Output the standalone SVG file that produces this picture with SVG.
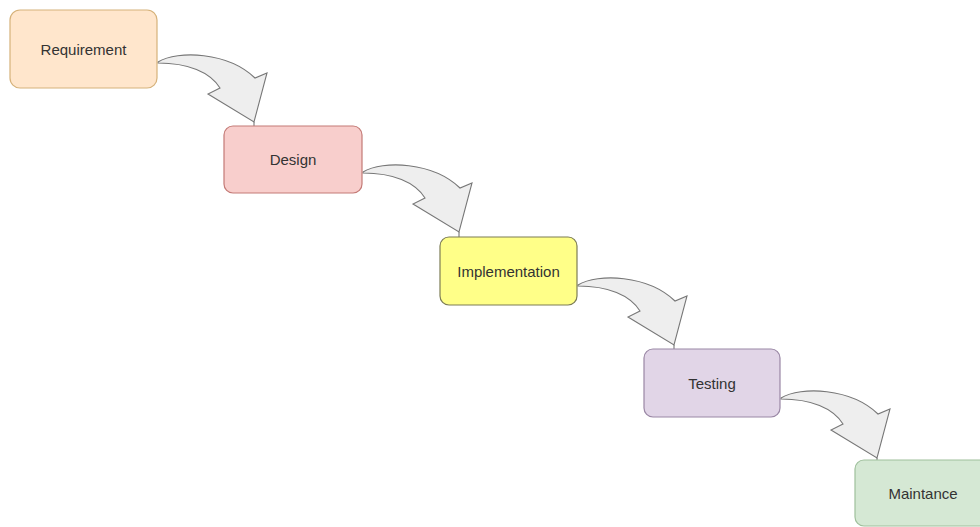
<svg xmlns="http://www.w3.org/2000/svg" xmlns:xlink="http://www.w3.org/1999/xlink" width="980" height="527" viewBox="0 0 980 527">
  <style>
    .node rect { stroke-width: 1.2; }
    .node text { font-family: "Liberation Sans", Arial, sans-serif; font-size: 15px; fill: #333333; text-anchor: middle; dominant-baseline: central; }
    .req rect { fill: #ffe6cc; stroke: #d6b27a; }
    .des rect { fill: #f8cecc; stroke: #c47a76; }
    .imp rect { fill: #ffff88; stroke: #7d7d55; }
    .tst rect { fill: #e1d5e7; stroke: #9a87a5; }
    .mnt rect { fill: #d5e8d4; stroke: #9fc09c; }
    .flow { fill: #eeeeee; stroke: #777777; stroke-width: 1.1; stroke-linejoin: miter; }
  </style>
  <defs>
    <!-- curved block arrow, drawn from its tail point at (0,0) -->
    <path id="curved-arrow" d="M0,0 C20,-12 70,-10 97,16 L109,11 L96,60 L50,32 L62,26 C52,10 30,1 0,1 Z"/>
  </defs>
  <rect width="980" height="527" fill="#ffffff"/>

  <g id="connectors" class="flow">
    <use xlink:href="#curved-arrow" transform="translate(158,62)"/>
    <use xlink:href="#curved-arrow" transform="translate(363,172)"/>
    <use xlink:href="#curved-arrow" transform="translate(578,285)"/>
    <use xlink:href="#curved-arrow" transform="translate(781,398)"/>
    <path d="M254,122 V126 M459,232 V237 M674,345 V349 M877,458 V460" fill="none"/>
  </g>

  <g id="requirement" class="node req">
    <rect x="10" y="10" width="147" height="78" rx="10"/>
    <text x="83.5" y="49">Requirement</text>
  </g>
  <g id="design" class="node des">
    <rect x="224" y="126" width="138" height="67" rx="9"/>
    <text x="293" y="159.5">Design</text>
  </g>
  <g id="implementation" class="node imp">
    <rect x="440" y="237" width="137" height="68" rx="9"/>
    <text x="508.5" y="271">Implementation</text>
  </g>
  <g id="testing" class="node tst">
    <rect x="644" y="349" width="136" height="68" rx="9"/>
    <text x="712" y="383">Testing</text>
  </g>
  <g id="maintance" class="node mnt">
    <rect x="855" y="460" width="136" height="66" rx="9"/>
    <text x="923" y="493">Maintance</text>
  </g>
</svg>
